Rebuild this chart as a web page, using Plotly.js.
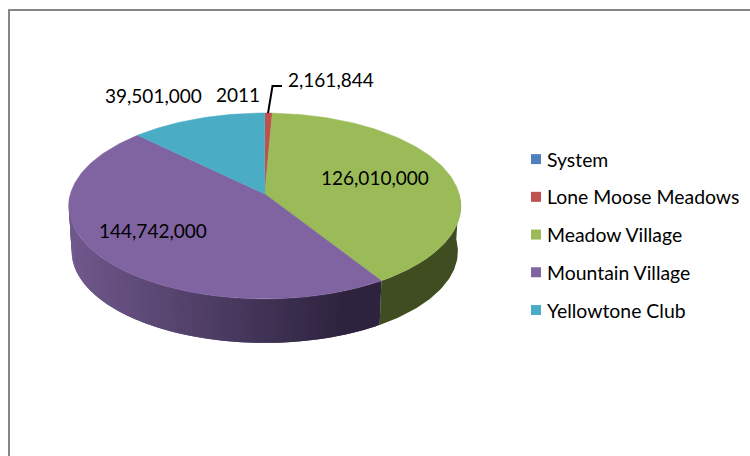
<!DOCTYPE html>
<html>
<head>
<meta charset="utf-8">
<script src="https://cdn.plot.ly/plotly-3.0.1.min.js"></script>
<style>html,body{margin:0;padding:0;background:#fff}#chart{width:750px;height:456px}</style>
</head>
<body>
<div id="chart"></div>
<script>
// ---- Data ----
const chartTitle = "2011";
const categories = ["System", "Lone Moose Meadows", "Meadow Village", "Mountain Village", "Yellowtone Club"];
const values = [0, 2161844, 126010000, 144742000, 39501000];
const topColors = ["#4F81BD", "#C0504D", "#9BBB59", "#8064A2", "#4BACC6"];

// ---- Perspective pie geometry, in the pixel-sized axis units ----
const apexX = 264.8, apexY = 194;
const scaleX = 194.4, scaleY = 91.4, persp = 0.129;
const depth = 45.5, bottomShrink = 0.985;

const total = values.reduce((a, b) => a + b, 0);
function project(deg, lower) {
  const t = deg * Math.PI / 180, u = Math.sin(t), v = Math.cos(t), w = 1 + persp * v;
  const s = lower ? bottomShrink : 1;
  return [apexX + s * scaleX * u / w, apexY + (lower ? depth : 0) - s * scaleY * v / w];
}
function mix(a, b, f) {
  return "rgb(" + a.map((c, i) => Math.round(c + (b[i] - c) * f)).join(",") + ")";
}
function purpleSide(x) {
  const f = Math.min(1, Math.max(0, (x - 72) / (350 - 72)));
  return mix([112, 88, 140], [45, 35, 62], f);
}

const traces = [];
let start = 0;
const spans = values.map(v => { const s = [start, start + v / total * 360]; start = s[1]; return s; });

function wallTrace(a, b, col) {
  const n = Math.max(1, Math.ceil((b - a) / 1));
  const top = [], low = [];
  for (let k = 0; k <= n; k++) {
    const d = a + (b - a) * k / n;
    top.push(project(d)); low.push(project(d, true));
  }
  const p = top.concat(low.reverse());
  p.push(p[0]);
  return {
    type: "scatter", mode: "lines", x: p.map(q => q[0]), y: p.map(q => q[1]),
    fill: "toself", fillcolor: col, line: {width: 0}, showlegend: false, hoverinfo: "skip"
  };
}
// Side wall (front half only), drawn first so that the top faces cover it
spans.forEach((sp, i) => {
  const from = Math.max(sp[0], 90), to = Math.min(sp[1], 270);
  if (to <= from) return;
  if (categories[i] === "Meadow Village") {
    traces.push(wallTrace(from, to, "#3F4D21"));
    return;
  }
  // Gradient wall: overlapping strips, painted from the far end so no seams show
  const step = 1.2;
  const n = Math.ceil((to - from) / step);
  for (let k = n - 1; k >= 0; k--) {
    const a = from + (to - from) * k / n, b = from + (to - from) * (k + 1) / n;
    const mid = project((a + b) / 2);
    traces.push(wallTrace(a, Math.min(to, b + step), purpleSide(mid[0])));
  }
});
// Top faces
spans.forEach((sp, i) => {
  if (values[i] === 0) return;
  const xs = [apexX], ys = [apexY];
  const n = Math.max(2, Math.ceil((sp[1] - sp[0]) / 1));
  for (let k = 0; k <= n; k++) {
    const p = project(sp[0] + (sp[1] - sp[0]) * k / n);
    xs.push(p[0]); ys.push(p[1]);
  }
  xs.push(apexX); ys.push(apexY);
  traces.push({
    type: "scatter", mode: "lines", x: xs, y: ys, fill: "toself", fillcolor: topColors[i],
    line: {color: topColors[i], width: 0.5}, name: categories[i], showlegend: false,
    hoverinfo: "text", text: categories[i] + ": " + values[i].toLocaleString("en-US")
  });
});
// Leader line of the small slice
const leaderStart = project((spans[1][0] + spans[1][1]) / 2);
traces.push({
  type: "scatter", mode: "lines", x: [leaderStart[0] - 0.5, 272.5, 282], y: [leaderStart[1], 86, 86],
  line: {color: "#000", width: 2}, showlegend: false, hoverinfo: "skip"
});
// Legend entries
categories.forEach((c, i) => traces.push({
  type: "scatter", mode: "markers", x: [null], y: [null], name: c, legendgroup: c,
  marker: {symbol: "square", size: 10, color: topColors[i]}, showlegend: true
}));

const labelFont = {family: "Lato, 'Open Sans', sans-serif", size: 19, color: "#000"};
const labelAt = [null, [331, 79], [375, 177], [153, 230], [153, 95]];
const annotations = values.map((v, i) => labelAt[i] && ({
  text: v.toLocaleString("en-US"), x: labelAt[i][0], y: labelAt[i][1], xref: "x", yref: "y",
  showarrow: false, font: labelFont, xanchor: "center", yanchor: "middle"
})).filter(Boolean);

const layout = {
  width: 750, height: 456, margin: {l: 0, r: 0, t: 0, b: 0},
  paper_bgcolor: "#fff", plot_bgcolor: "#fff", showlegend: true,
  font: labelFont,
  title: {text: chartTitle, font: labelFont, x: 238 / 750, y: 1 - 95 / 456, xanchor: "center", yanchor: "middle"},
  xaxis: {range: [0, 750], visible: false, fixedrange: true},
  yaxis: {range: [456, 0], visible: false, fixedrange: true},
  legend: {x: 507 / 750, y: 1 - 140 / 456, xanchor: "left", yanchor: "top", font: {family: labelFont.family, size: 19.4, color: "#000"},
           tracegroupgap: 9.5, bgcolor: "rgba(0,0,0,0)", borderwidth: 0, itemwidth: 30, traceorder: "grouped"},
  annotations: annotations,
  shapes: [
    {type: "line", xref: "x", yref: "y", x0: 9, x1: 9, y0: 9, y1: 456, line: {color: "#868686", width: 2}},
    {type: "line", xref: "x", yref: "y", x0: 8, x1: 750, y0: 10, y1: 10, line: {color: "#868686", width: 2}}
  ]
};
Plotly.newPlot("chart", traces, layout, {displayModeBar: false, responsive: false}).then(() => {
  document.querySelectorAll(".legend .legendpoints").forEach(g => g.setAttribute("transform", "translate(9,0)"));
});
</script>
</body>
</html>
